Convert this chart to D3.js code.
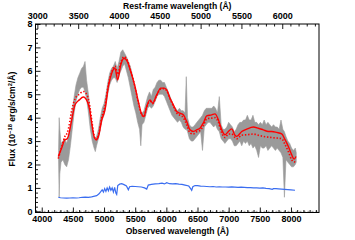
<!DOCTYPE html>
<html><head><meta charset="utf-8">
<script src="https://cdn.jsdelivr.net/npm/d3@7"></script>
<style>
html,body{margin:0;padding:0;background:#fff;}
svg text{font-family:"Liberation Sans",Arial,sans-serif;font-weight:bold;fill:#000;}
</style></head>
<body>
<svg id="c" width="355" height="240"></svg>
<script>
// ---- data ----
const redshiftFactor = 1.31; // observed = rest * factor
const yTicks = [0,1,2,3,4,5,6,7,8];
const obsTicks = [4000,4500,5000,5500,6000,6500,7000,7500,8000];
const restTicks = [3000,3500,4000,4500,5000,5500,6000];

const modelWave  = [4266,4320,4373,4400,4426,4481,4534,4603,4667,4731,4770,4802,4839,4871,4910,4963,5015,5069,5123,5176,5219,5268,5320,5375,5428,5497,5550,5605,5640,5685,5738,5780,5845,5910,5963,6005,6059,6112,6166,6219,6272,6326,6380,6433,6487,6540,6593,6648,6728,6780,6835,6889,6942,6996,7049,7102,7130,7210,7290,7396,7476,7556,7636,7691,7771,7852,7905,7958,8011,8050,8081];
const modelSolid = [2.34,2.70,3.06,3.08,3.20,3.90,4.55,4.76,4.88,4.69,4.33,3.77,3.20,3.06,3.20,3.90,4.33,5.33,5.90,6.11,5.61,6.25,6.54,6.39,5.97,5.33,4.69,4.15,4.05,4.48,4.76,4.62,4.97,5.26,5.26,5.19,4.83,4.55,4.26,4.19,4.12,3.84,3.48,3.41,3.48,3.55,3.77,4.08,4.12,4.16,3.91,3.48,3.27,3.41,3.52,3.25,3.20,3.41,3.51,3.60,3.55,3.48,3.41,3.41,3.37,3.31,3.06,2.77,2.42,2.23,2.34];
const modelDotted= [2.25,2.75,3.20,3.30,3.50,4.30,4.80,5.00,5.12,4.95,4.50,3.90,3.25,3.06,3.25,4.00,4.50,5.40,5.95,6.20,5.85,6.35,6.60,6.45,6.00,5.30,4.65,4.12,4.05,4.45,4.70,4.60,4.95,5.22,5.24,5.15,4.80,4.50,4.20,4.10,4.00,3.70,3.35,3.30,3.40,3.45,3.65,3.95,3.98,4.00,3.80,3.35,3.15,3.30,3.30,3.15,3.10,3.25,3.27,3.30,3.25,3.20,3.17,3.15,3.13,3.10,2.85,2.55,2.20,2.10,2.20];

const grayWave = [4270,4280,4290,4310,4340,4370,4400,4430,4460,4490,4520,4550,4580,4610,4640,4670,4695,4720,4750,4780,4810,4840,4860,4880,4910,4940,4970,5000,5030,5060,5090,5120,5150,5180,5210,5240,5270,5300,5330,5360,5390,5420,5450,5480,5510,5540,5570,5590,5610,5640,5670,5700,5730,5760,5790,5820,5850,5880,5910,5940,5970,6000,6030,6060,6090,6120,6150,6180,6210,6240,6270,6300,6320,6340,6370,6400,6430,6460,6490,6520,6550,6580,6610,6640,6670,6700,6730,6760,6790,6820,6850,6880,6910,6940,6970,7000,7030,7060,7090,7120,7150,7180,7210,7240,7270,7300,7330,7360,7390,7420,7450,7480,7510,7540,7570,7600,7630,7660,7690,7720,7750,7780,7810,7840,7870,7895,7920,7950,7980,8010,8040,8070,8085];
const grayLow  = [2.2,0.6,1.6,2.1,2.2,2.0,1.9,2.2,2.8,3.5,4.2,4.7,5.0,5.2,5.3,5.3,5.1,4.8,4.2,3.5,3.0,2.7,2.55,2.8,3.1,3.5,3.9,4.1,4.5,5.0,5.4,5.6,5.7,5.7,5.5,5.8,6.0,6.2,6.3,6.0,5.7,5.3,4.9,4.5,4.2,3.8,3.5,2.8,3.7,3.8,4.1,4.4,4.5,4.4,4.5,4.7,4.9,5.0,5.0,5.0,4.9,4.7,4.5,4.3,4.1,4.0,3.9,3.8,3.9,3.8,3.6,3.5,3.5,3.4,3.1,3.0,3.0,3.1,3.2,3.3,3.4,2.6,3.6,3.7,3.8,3.8,3.7,3.6,3.7,3.5,3.4,3.1,3.0,2.9,3.0,3.1,3.1,3.0,2.8,2.8,2.9,3.0,2.8,3.0,2.9,3.0,2.8,2.9,2.7,2.8,2.6,2.3,2.8,2.7,2.7,2.8,2.6,2.7,2.8,2.7,2.6,2.7,2.6,2.5,2.3,0.6,2.2,2.1,2.0,1.9,1.9,2.0,2.1];
const grayHigh = [2.6,4.0,3.5,2.9,3.0,3.1,2.9,3.2,3.7,4.3,4.9,5.4,5.7,5.9,6.1,6.2,6.4,5.6,5.0,4.2,3.6,3.2,3.1,3.2,3.5,4.0,4.4,4.6,5.0,5.5,5.9,6.1,6.2,6.4,6.1,6.4,6.8,6.9,6.75,6.6,6.4,6.2,5.9,5.5,5.1,4.7,4.3,4.2,4.2,4.3,4.6,4.9,5.1,4.9,5.2,5.3,5.5,5.6,5.6,5.5,5.5,5.3,5.1,4.9,4.7,4.5,4.4,4.3,4.4,4.3,4.3,4.2,5.75,4.0,3.7,3.6,3.6,3.7,3.8,3.9,4.0,4.1,4.3,4.4,4.4,4.4,4.4,4.5,4.4,4.2,4.9,3.7,3.5,3.5,3.6,3.8,3.7,3.6,3.4,3.5,3.7,3.8,3.8,3.9,3.9,4.1,3.9,3.9,4.1,3.8,3.8,3.7,3.8,3.7,3.9,3.7,3.8,3.7,3.6,3.7,3.6,3.6,3.5,3.9,3.5,3.4,3.2,3.0,2.9,2.7,2.6,2.7,2.5];

const blueWave = [4266,4300,4350,4400,4450,4500,4561,4600,4650,4700,4750,4800,4850,4882,4920,4950,4970,4990,5010,5030,5050,5070,5090,5110,5130,5150,5170,5190,5203,5220,5250,5284,5320,5360,5390,5410,5450,5500,5550,5600,5650,5685,5710,5760,5820,5880,5930,5970,6006,6050,6100,6150,6200,6250,6300,6360,6395,6407,6425,6460,6500,6550,6600,6650,6700,6750,6800,6850,6900,6950,7000,7050,7100,7150,7200,7250,7300,7350,7400,7450,7500,7550,7600,7650,7700,7720,7760,7800,7850,7900,7950,8000,8065];
const blueFlux = [0.60,0.58,0.57,0.56,0.57,0.58,0.57,0.58,0.60,0.61,0.60,0.62,0.65,0.67,0.75,0.85,0.92,0.82,0.97,0.85,1.00,0.88,1.04,0.90,1.00,0.82,1.02,0.78,0.72,1.10,1.16,1.18,1.14,1.08,0.92,1.05,1.07,1.06,1.05,1.04,1.00,0.95,1.12,1.15,1.17,1.18,1.20,1.17,1.22,1.18,1.17,1.18,1.16,1.15,1.12,1.08,0.95,0.90,1.05,1.10,1.10,1.08,1.07,1.06,1.05,1.06,1.04,1.05,1.04,1.04,1.03,1.04,1.03,1.02,1.03,1.02,1.01,1.01,1.00,1.00,0.99,1.00,0.98,0.97,0.94,0.97,0.97,0.96,0.95,0.94,0.93,0.92,0.90];

// ---- layout ----
const L=35.5, R=319, T=24, B=212.5;
const svg = d3.select("#c");
const x = d3.scaleLinear().domain([3900,8450]).range([L,R]);
const y = d3.scaleLinear().domain([-0.05,8]).range([B,T]);

svg.append("clipPath").attr("id","clip").append("rect")
  .attr("x",L).attr("y",T).attr("width",R-L).attr("height",B-T);
const g = svg.append("g").attr("clip-path","url(#clip)");

// zero dashed line
g.append("line").attr("x1",L).attr("x2",R).attr("y1",y(0)).attr("y2",y(0))
  .attr("stroke","#888").attr("stroke-width",0.8).attr("stroke-dasharray","2,2");

// gray observed band
const grayData = grayWave.map((w,i)=>({w,lo:grayLow[i],hi:grayHigh[i]}));
g.append("path").datum(grayData)
  .attr("d", d3.area().x(d=>x(d.w)).y0(d=>y(d.lo)).y1(d=>y(d.hi)))
  .attr("fill","#9a9a9a").attr("stroke","#9a9a9a").attr("stroke-width",0.6);

// red dotted
const dotData = modelWave.map((w,i)=>({w,v:modelDotted[i]}));
g.append("path").datum(dotData)
  .attr("d", d3.line().x(d=>x(d.w)).y(d=>y(d.v)).curve(d3.curveMonotoneX))
  .attr("fill","none").attr("stroke","#ff0000").attr("stroke-width",1.6).attr("stroke-dasharray","1.4,1.8");

// red solid
const solData = modelWave.map((w,i)=>({w,v:modelSolid[i]}));
g.append("path").datum(solData)
  .attr("d", d3.line().x(d=>x(d.w)).y(d=>y(d.v)).curve(d3.curveMonotoneX))
  .attr("fill","none").attr("stroke","#ff0000").attr("stroke-width",1.4);

// blue
const blueData = blueWave.map((w,i)=>({w,v:blueFlux[i]}));
g.append("path").datum(blueData)
  .attr("d", d3.line().x(d=>x(d.w)).y(d=>y(d.v)))
  .attr("fill","none").attr("stroke","#3a6df0").attr("stroke-width",1.2);

// ---- axes ----
function styleAxis(sel){
  sel.select(".domain").remove();
  sel.selectAll("line").attr("stroke","#000").attr("stroke-width",0.9);
  sel.selectAll("text").attr("font-size","9px").attr("font-weight","bold")
     .attr("font-family","Liberation Sans, Arial, sans-serif");
}
// bottom major/minor (inward)
const obsMinor = d3.range(3900,8451,100).filter(v=>v%500!==0);
svg.append("g").attr("transform",`translate(0,${B})`)
  .call(d3.axisBottom(x).tickValues(obsMinor).tickSize(-2.5).tickFormat(""))
  .call(styleAxis);
svg.append("g").attr("transform",`translate(0,${B})`)
  .call(d3.axisBottom(x).tickValues(obsTicks).tickSize(-5).tickPadding(3.2).tickFormat(d3.format("d")))
  .call(styleAxis);

// top (rest frame) inward
const xr = d3.scaleLinear().domain([3900/redshiftFactor,8450/redshiftFactor]).range([L,R]);
const restMinor = d3.range(3000,6500,100).filter(v=>v%500!==0 && v<=8450/redshiftFactor);
svg.append("g").attr("transform",`translate(0,${T})`)
  .call(d3.axisTop(xr).tickValues(restMinor).tickSize(-2.5).tickFormat(""))
  .call(styleAxis);
svg.append("g").attr("transform",`translate(0,${T})`)
  .call(d3.axisTop(xr).tickValues(restTicks).tickSize(-5).tickPadding(5.5).tickFormat(d3.format("d")))
  .call(styleAxis);

// left
const yMinor = d3.range(0,8.01,0.2).filter(v=>Math.abs(v-Math.round(v))>0.01);
svg.append("g").attr("transform",`translate(${L},0)`)
  .call(d3.axisLeft(y).tickValues(yMinor).tickSize(-2.5).tickFormat(""))
  .call(styleAxis);
svg.append("g").attr("transform",`translate(${L},0)`)
  .call(d3.axisLeft(y).tickValues(yTicks).tickSize(-5).tickPadding(3).tickFormat(d3.format("d")))
  .call(styleAxis);

// frame
svg.append("rect").attr("x",L).attr("y",T).attr("width",R-L).attr("height",B-T)
  .attr("fill","none").attr("stroke","#000").attr("stroke-width",1);

// titles
svg.append("text").attr("x",(L+R)/2).attr("y",8.5).attr("text-anchor","middle")
  .attr("font-size","8.6px").text("Rest-frame wavelength (Å)");
svg.append("text").attr("x",(L+R)/2).attr("y",234).attr("text-anchor","middle")
  .attr("font-size","8.6px").text("Observed wavelength (Å)");
const yl = svg.append("text").attr("transform","translate(15,119) rotate(-90)")
  .attr("text-anchor","middle").attr("font-size","8.6px");
yl.append("tspan").text("Flux (10");
yl.append("tspan").attr("dy",-3.5).attr("font-size","5.8px").text("−18");
yl.append("tspan").attr("dy",3.5).text(" erg/s/cm");
yl.append("tspan").attr("dy",-3.5).attr("font-size","5.8px").text("2");
yl.append("tspan").attr("dy",3.5).text("/Å)");
</script>
</body></html>
